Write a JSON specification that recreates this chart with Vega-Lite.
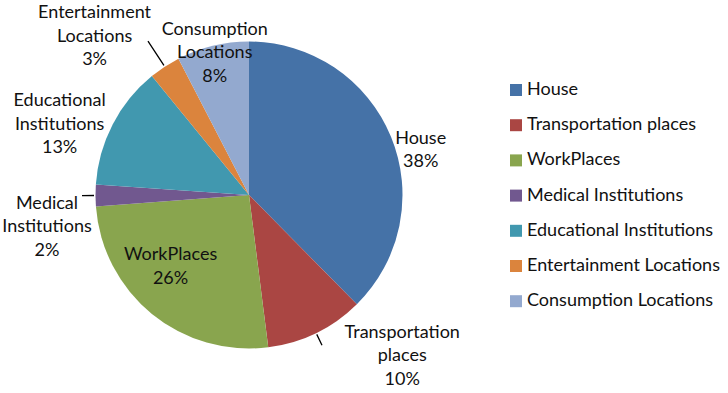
{
  "$schema": "https://vega.github.io/schema/vega-lite/v6.json",
  "width": 498,
  "height": 390,
  "autosize": "none",
  "padding": {"left": 0, "top": 0, "right": 230, "bottom": 3},
  "background": "white",
  "config": {
    "view": {"stroke": null},
    "text": {"font": "Lato", "fontSize": 18, "color": "#111111", "lineBreak": "\n", "lineHeight": 23.5, "align": "center", "baseline": "middle"},
    "legend": {
      "labelFont": "Lato", "labelFontSize": 18, "labelColor": "#111111", "labelLimit": 300,
      "symbolType": "square", "symbolSize": 144, "symbolStrokeWidth": 0,
      "labelOffset": 2, "rowPadding": 17.2, "padding": 0
    }
  },
  "data": {
    "values": [
      {"category": "House", "share": 37.6, "idx": 1, "label": "House\n38%"},
      {"category": "Transportation places", "share": 10.4, "idx": 2, "label": "Transportation\nplaces\n10%"},
      {"category": "WorkPlaces", "share": 25.8, "idx": 3, "label": "WorkPlaces\n26%"},
      {"category": "Medical Institutions", "share": 2.3, "idx": 4, "label": "Medical\nInstitutions\n2%"},
      {"category": "Educational Institutions", "share": 13.0, "idx": 5, "label": "Educational\nInstitutions\n13%"},
      {"category": "Entertainment Locations", "share": 3.3, "idx": 6, "label": "Entertainment\nLocations\n3%"},
      {"category": "Consumption Locations", "share": 7.6, "idx": 7, "label": "Consumption\nLocations\n8%"}
    ]
  },
  "encoding": {
    "theta": {"field": "share", "type": "quantitative", "stack": true, "scale": {"domain": [0, 100]}},
    "order": {"field": "idx", "type": "quantitative"}
  },
  "layer": [
    {
      "mark": {"type": "arc", "radius": 153.5},
      "encoding": {
        "color": {
          "field": "category", "type": "nominal",
          "scale": {
            "domain": ["House", "Transportation places", "WorkPlaces", "Medical Institutions", "Educational Institutions", "Entertainment Locations", "Consumption Locations"],
            "range": ["#4572A7", "#AA4643", "#89A54E", "#71588F", "#4198AF", "#DB843D", "#93A9CF"]
          },
          "legend": {"title": null, "orient": "none", "legendX": 507, "legendY": 81}
        }
      }
    },
    {
      "mark": {"type": "arc", "radius": 167, "radius2": 155, "padAngle": 3, "filled": false, "stroke": "black", "strokeWidth": 1.3},
      "encoding": {
        "detail": {"field": "category"},
        "strokeOpacity": {"condition": {"test": "datum.category === 'Transportation places' || datum.category === 'Medical Institutions'", "value": 1}, "value": 0}
      }
    },
    {
      "mark": {"type": "arc", "radius": 184, "radius2": 155, "padAngle": 3, "filled": false, "stroke": "black", "strokeWidth": 1.3},
      "encoding": {
        "detail": {"field": "category"},
        "strokeOpacity": {"condition": {"test": "datum.category === 'Entertainment Locations'", "value": 1}, "value": 0}
      }
    },
    {
      "mark": {"type": "text", "radius": 178, "dx": 7, "dy": 11.5},
      "encoding": {"detail": {"field": "category"}, "text": {"condition": {"test": "datum.category === 'House'", "field": "label"}, "value": ""}}
    },
    {
      "mark": {"type": "text", "radius": 211, "dx": 61, "dy": -52},
      "encoding": {"detail": {"field": "category"}, "text": {"condition": {"test": "datum.category === 'Transportation places'", "field": "label"}, "value": ""}}
    },
    {
      "mark": {"type": "text", "radius": 105, "dx": -12, "dy": -21},
      "encoding": {"detail": {"field": "category"}, "text": {"condition": {"test": "datum.category === 'WorkPlaces'", "field": "label"}, "value": ""}}
    },
    {
      "mark": {"type": "text", "radius": 204, "dx": 2, "dy": 8},
      "encoding": {"detail": {"field": "category"}, "text": {"condition": {"test": "datum.category === 'Medical Institutions'", "field": "label"}, "value": ""}}
    },
    {
      "mark": {"type": "text", "radius": 202, "dx": -10, "dy": -1},
      "encoding": {"detail": {"field": "category"}, "text": {"condition": {"test": "datum.category === 'Educational Institutions'", "field": "label"}, "value": ""}}
    },
    {
      "mark": {"type": "text", "radius": 223, "dx": -32, "dy": 4.5},
      "encoding": {"detail": {"field": "category"}, "text": {"condition": {"test": "datum.category === 'Entertainment Locations'", "field": "label"}, "value": ""}}
    },
    {
      "mark": {"type": "text", "radius": 149, "dx": 1, "dy": -20.5},
      "encoding": {"detail": {"field": "category"}, "text": {"condition": {"test": "datum.category === 'Consumption Locations'", "field": "label"}, "value": ""}}
    }
  ]
}
